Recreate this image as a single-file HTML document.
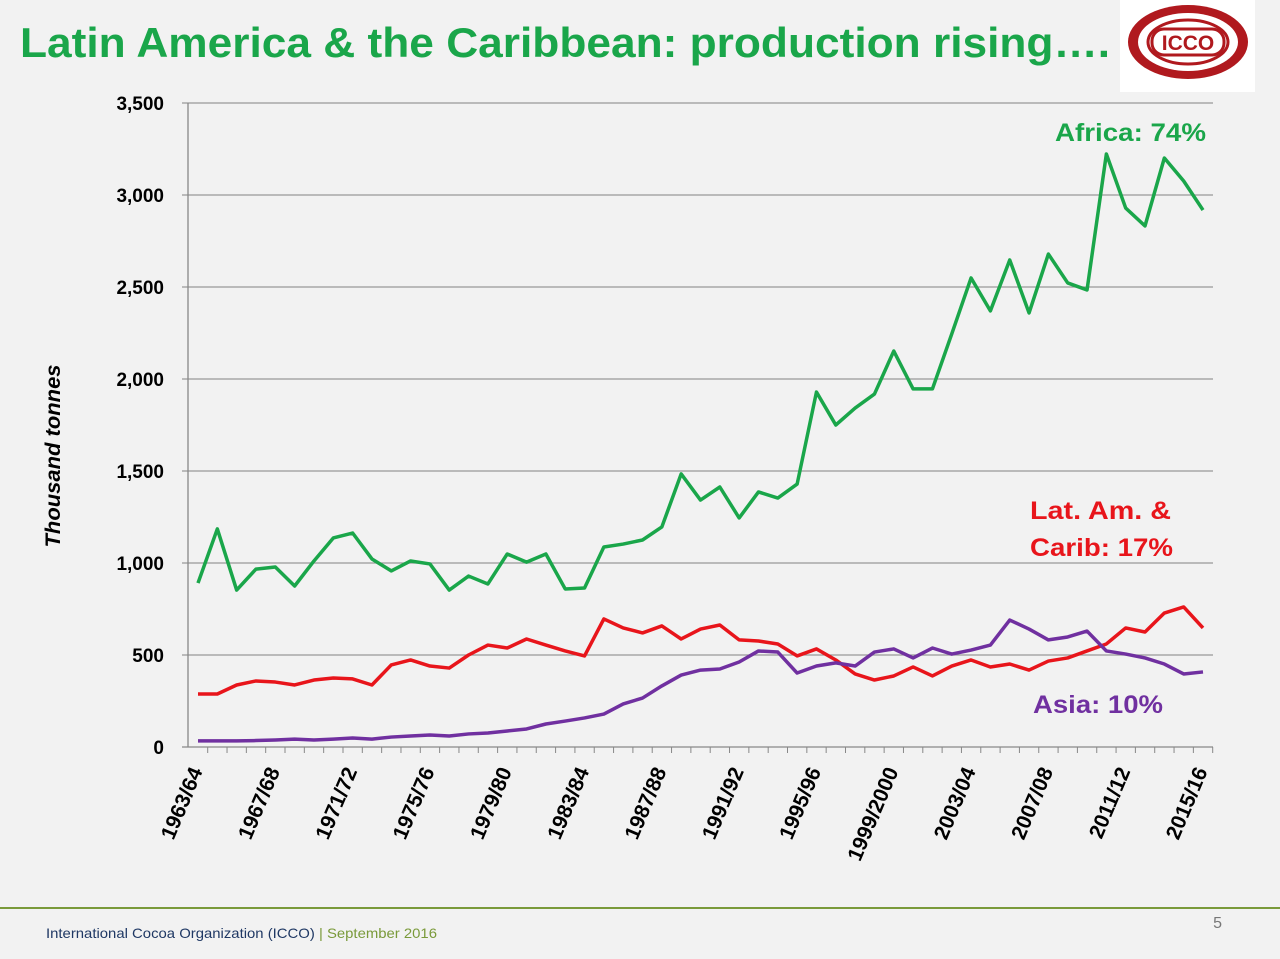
<!DOCTYPE html>
<html><head><meta charset="utf-8"><style>
body{margin:0;width:1280px;height:954px;background:#f2f2f2;overflow:hidden;font-family:"Liberation Sans",sans-serif;}
</style></head><body>
<svg width="1280" height="954" xmlns="http://www.w3.org/2000/svg">
<rect width="1280" height="954" fill="#f2f2f2"/>
<text x="20" y="57" font-size="42" font-weight="bold" fill="#1aa64a" textLength="1090" lengthAdjust="spacingAndGlyphs">Latin America &amp; the Caribbean:  production rising….</text>
<g>
<rect x="1120" y="0" width="135" height="92" fill="#ffffff"/>
<ellipse cx="1188" cy="42" rx="60" ry="37" fill="#b0191e"/>
<ellipse cx="1188" cy="42" rx="50" ry="29" fill="#fff"/>
<ellipse cx="1188" cy="42" rx="40" ry="22" fill="none" stroke="#b0191e" stroke-width="3"/>
<rect x="1152" y="29" width="72" height="26" rx="12" fill="#fff" stroke="#b0191e" stroke-width="3"/>
<text x="1188" y="50" font-size="21" font-weight="bold" fill="#b0191e" text-anchor="middle">ICCO</text>
</g>
<g id="chart"></g>
<text transform="translate(60,456) rotate(-90)" font-size="21" font-style="italic" font-weight="bold" fill="#000" text-anchor="middle" textLength="183" lengthAdjust="spacingAndGlyphs">Thousand tonnes</text>
<text x="1055" y="141" font-size="25" font-weight="bold" fill="#1aa64a" textLength="151" lengthAdjust="spacingAndGlyphs">Africa: 74%</text>
<text x="1030" y="519" font-size="25" font-weight="bold" fill="#e8151b" textLength="141" lengthAdjust="spacingAndGlyphs">Lat. Am. &amp;</text>
<text x="1030" y="556" font-size="25" font-weight="bold" fill="#e8151b" textLength="143" lengthAdjust="spacingAndGlyphs">Carib: 17%</text>
<text x="1033" y="713" font-size="25" font-weight="bold" fill="#7030a0" textLength="130" lengthAdjust="spacingAndGlyphs">Asia: 10%</text>
<line x1="0" y1="908" x2="1280" y2="908" stroke="#7a9a3a" stroke-width="2"/>
<text x="46" y="938" font-size="14" fill="#1f3864" textLength="391" lengthAdjust="spacingAndGlyphs">International Cocoa Organization (ICCO) <tspan fill="#7a9a3a">|  September 2016</tspan></text>
<text x="1222" y="928" font-size="16" fill="#777" text-anchor="end">5</text>
</svg>
<script>
const years = [];
for (let y = 1963; y <= 2015; y++) years.push(y + "/" + (y === 1999 ? "2000" : String((y + 1) % 100).padStart(2, "0")));
const yTicks = [0,500,1000,1500,2000,2500,3000,3500];
const africa = [891,1185,853,967,978,875,1011,1136,1163,1022,957,1011,995,853,929,886,1049,1005,1049,859,864,1087,1103,1125,1196,1484,1342,1413,1245,1386,1353,1429,1929,1750,1842,1918,2152,1946,1946,2245,2549,2370,2647,2359,2679,2522,2484,3223,2929,2832,3201,3076,2918];
const latam = [288,288,337,359,353,337,364,375,370,337,446,473,440,429,500,554,538,587,554,522,495,696,647,620,658,587,641,663,582,576,560,495,533,473,397,364,386,435,386,440,473,435,451,418,467,484,522,560,647,625,728,761,647];
const asia = [33,33,33,35,38,43,38,43,49,43,54,60,65,60,71,76,87,98,125,141,158,179,234,266,332,391,418,424,462,522,516,402,440,457,440,516,533,484,538,505,527,554,690,641,582,598,630,522,505,484,451,397,408];
const NS = "http://www.w3.org/2000/svg";
const g = document.getElementById("chart");
const left = 188, right = 1213, x0 = 198, x1 = 1203, yb = 747, yt = 103;
const X = i => x0 + (x1 - x0) * i / (years.length - 1);
const Y = v => yb - (yb - yt) * v / 3500;
function mk(t, a) { const e = document.createElementNS(NS, t); for (const k in a) e.setAttribute(k, a[k]); g.appendChild(e); return e; }
yTicks.forEach(v => {
  const l = mk("line", {x1: left - 6, x2: right, y1: Y(v), y2: Y(v), stroke: v === 0 ? "#888" : "#999", "stroke-width": 1.3});
  
  
  const t = mk("text", {x: 164, y: Y(v) + 7, "font-size": 19, "font-weight": "bold", "text-anchor": "end", fill: "#000"});
  t.textContent = v.toLocaleString("en-US");
  
  
});
const ax = mk("line", {x1: left, x2: left, y1: yt, y2: yb, stroke: "#888", "stroke-width": 1.3});


years.forEach((lab, i) => {
  const tk = mk("line", {x1: X(i) + 9.7, x2: X(i) + 9.7, y1: yb, y2: yb + 6, stroke: "#888"});
  
  
  if (i % 4 === 0) {
    const t = mk("text", {transform: `translate(${X(i) + 5},${yb + 24}) rotate(-67)`, "font-size": 21, "font-weight": "bold", "text-anchor": "end", fill: "#000"});
    t.textContent = lab;
    
    
  }
});
[[africa, "#1aa64a", "africa-line"], [latam, "#e8151b", "latam-line"], [asia, "#7030a0", "asia-line"]].forEach(([d, c, n]) => {
  const p = mk("polyline", {points: d.map((v, i) => X(i) + "," + Y(v)).join(" "), fill: "none", stroke: c, "stroke-width": 3.5, "stroke-linejoin": "round"});
  
  
});
</script>
</body></html>
